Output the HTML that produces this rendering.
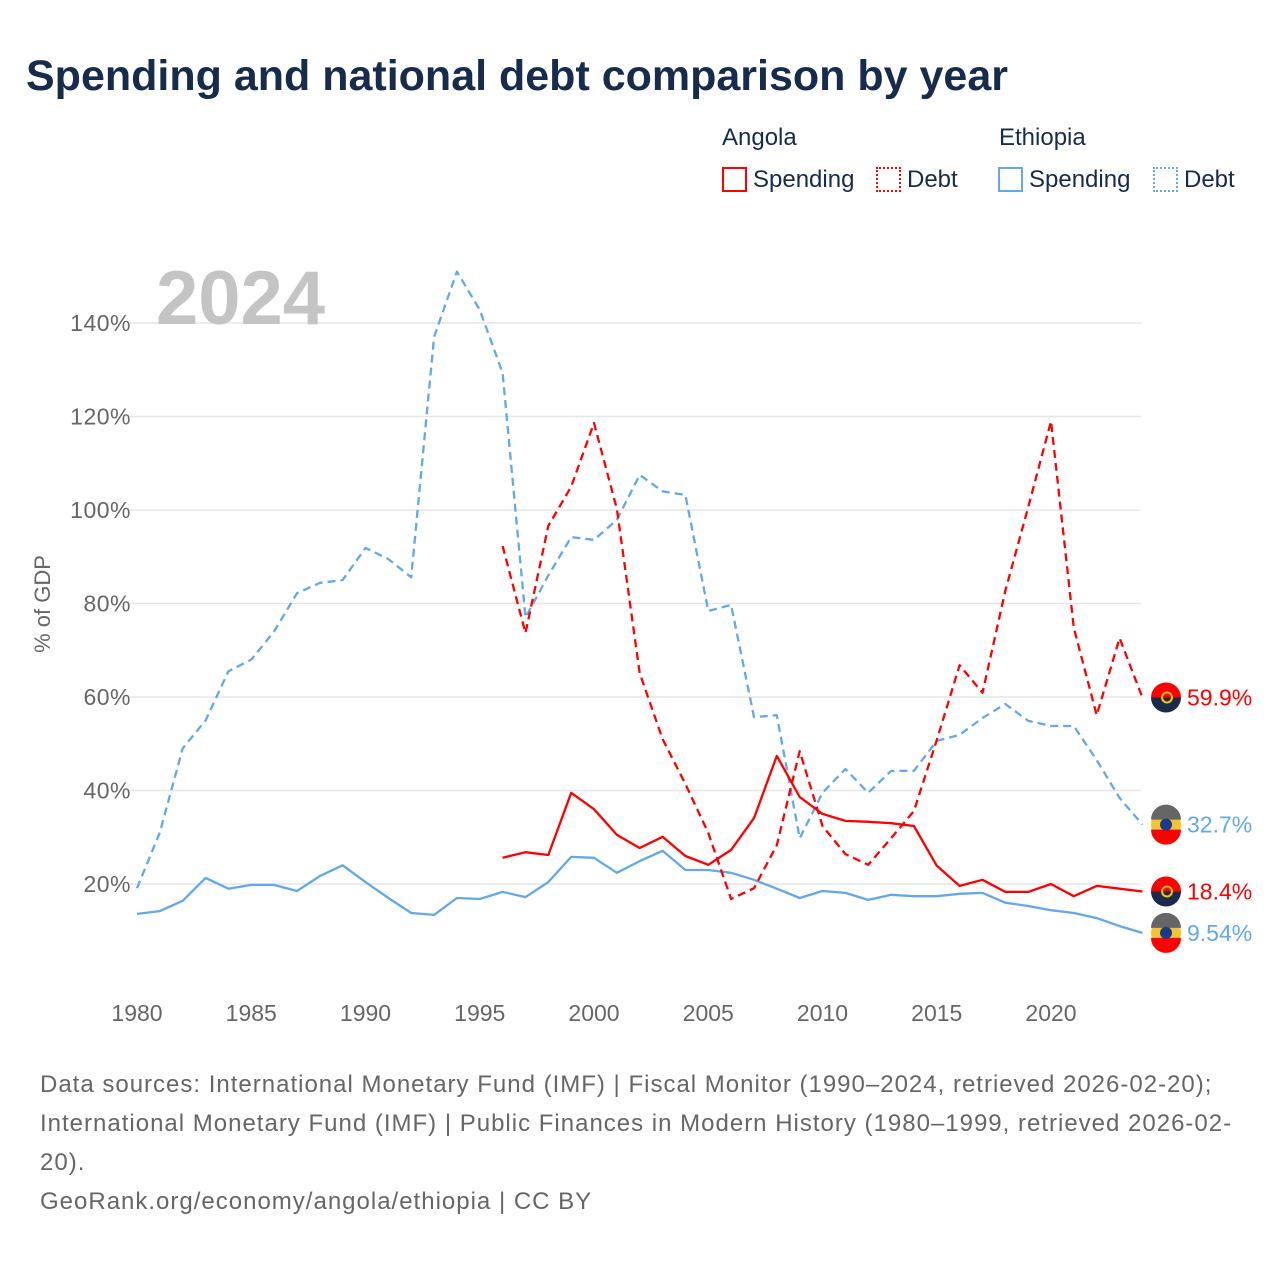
<!DOCTYPE html>
<html><head><meta charset="utf-8"><style>
body{margin:0;background:#fff;font-family:"Liberation Sans",sans-serif;}
#wrap{position:relative;width:1280px;height:1280px;overflow:hidden;}
.t{position:absolute;white-space:nowrap;}
</style></head><body>
<div id="wrap">
<div class="t" style="left:26px;top:52px;font-size:43px;font-weight:bold;color:#172b4d;">Spending and national debt comparison by year</div>
<div class="t" style="left:722px;top:124px;font-size:24px;color:#172b4d;">Angola</div>
<div class="t" style="left:999px;top:124px;font-size:24px;color:#172b4d;">Ethiopia</div>
<div class="t" style="left:722px;top:166px;font-size:24px;color:#172b4d;"><span style="display:inline-block;width:21px;height:21px;border:2px solid #f00;vertical-align:-5px;margin-right:6px;"></span>Spending</div>
<div class="t" style="left:876px;top:166px;font-size:24px;color:#172b4d;"><span style="display:inline-block;width:21px;height:21px;border:2px dotted #f00;vertical-align:-5px;margin-right:6px;"></span>Debt</div>
<div class="t" style="left:998px;top:166px;font-size:24px;color:#172b4d;"><span style="display:inline-block;width:21px;height:21px;border:2px solid #62a8ea;vertical-align:-5px;margin-right:6px;"></span>Spending</div>
<div class="t" style="left:1153px;top:166px;font-size:24px;color:#172b4d;"><span style="display:inline-block;width:21px;height:21px;border:2px dotted #62a8ea;vertical-align:-5px;margin-right:6px;"></span>Debt</div>
<svg id="chart" width="1280" height="1280" style="position:absolute;left:0;top:0;"></svg>
<div class="t" style="left:40px;top:1065px;font-size:24px;letter-spacing:1px;line-height:39px;color:#666;white-space:normal;width:1230px;">Data sources: International Monetary Fund (IMF) | Fiscal Monitor (1990–2024, retrieved 2026-02-20);<br>International Monetary Fund (IMF) | Public Finances in Modern History (1980–1999, retrieved 2026-02-<br>20).<br>GeoRank.org/economy/angola/ethiopia | CC BY</div>
</div>
<script>
const yTicks=[20,40,60,80,100,120,140];
const xTicks=[1980,1985,1990,1995,2000,2005,2010,2015,2020];
const ethDebt=[19.1,31,49,55,65.5,68,74,82.2,84.4,85,91.9,89.5,85.6,137,151,142.8,129.3,77,86,94.2,93.6,97.9,107.5,104,103.2,78.4,79.7,55.7,56.1,29.8,39.5,44.6,39.5,44.2,44.2,50.6,51.9,55.5,58.5,54.9,53.8,53.8,46.5,38.4,32.7];
const ethSpend=[13.6,14.2,16.4,21.3,19,19.8,19.8,18.5,21.7,24,20.4,17,13.8,13.4,17,16.8,18.3,17.2,20.4,25.8,25.6,22.4,24.9,27.1,23,23,22.4,20.9,19,17,18.5,18.1,16.6,17.7,17.4,17.4,17.9,18.1,16,15.3,14.4,13.8,12.7,11,9.54];
const angDebt=[92.3,73.7,96.6,105,118.6,100.2,65.1,51,41.4,30.9,16.8,19.1,28.3,48.4,32.4,26.4,24.1,29.8,35.6,50.8,66.8,60.9,82.7,100.6,119,74.8,56.1,72.6,59.9];
const angSpend=[25.6,26.8,26.2,39.5,36,30.5,27.7,30.1,26,24.1,27.3,34.1,47.4,38.6,35,33.5,33.3,33,32.4,23.9,19.6,20.9,18.3,18.3,20,17.4,19.6,19,18.4];
const endLabels=["59.9%","32.7%","18.4%","9.54%"];
const NS="http://www.w3.org/2000/svg";
const svg=document.getElementById('chart');
const X=yr=>137+(yr-1980)*22.85;
const Y=v=>977.5-v*4.675;
function mk(t,a,p){const e=document.createElementNS(NS,t);for(const k in a)e.setAttribute(k,a[k]);(p||svg).appendChild(e);return e;}
yTicks.forEach(v=>{
 const g=mk('line',{x1:130,x2:1141,y1:Y(v),y2:Y(v),stroke:'#e6e6e6','stroke-width':1.5});
 
 
 const t=mk('text',{x:131,y:Y(v)+8,'text-anchor':'end','font-size':23,'letter-spacing':0.5,fill:'#666','font-family':'Liberation Sans, sans-serif'});
 t.textContent=v+'%';
 
 
});
xTicks.forEach(yr=>{
 const t=mk('text',{x:X(yr),y:1021,'text-anchor':'middle','font-size':23,fill:'#666','font-family':'Liberation Sans, sans-serif'});
 t.textContent=yr;
 
 
});
const yt=mk('text',{x:0,y:0,transform:'translate(50,604) rotate(-90)','text-anchor':'middle','font-size':22,fill:'#666','font-family':'Liberation Sans, sans-serif'});
yt.textContent='% of GDP';


const yr=mk('text',{x:156,y:324,'font-size':76,'font-weight':'bold',fill:'#c4c4c4','font-family':'Liberation Sans, sans-serif'});
yr.textContent='2024';


function line(data,start,color,dash,name){
 const pts=data.map((v,i)=>X(start+i).toFixed(1)+','+Y(v).toFixed(1)).join(' ');
 const p=mk('polyline',{points:pts,fill:'none',stroke:color,'stroke-width':2.3,'stroke-dasharray':dash?'8,5':'none','stroke-linejoin':'round'});
 
 
}
line(ethDebt,1980,'#62a8ea',true,'ethiopia-debt-line');
line(ethSpend,1980,'#62a8ea',false,'ethiopia-spending-line');
line(angDebt,1996,'#ff0000',true,'angola-debt-line');
line(angSpend,1996,'#ff0000',false,'angola-spending-line');
const ends=[[angDebt[angDebt.length-1],'ang','#ff0000'],[ethDebt[ethDebt.length-1],'eth','#62a8ea'],[angSpend[angSpend.length-1],'ang','#ff0000'],[ethSpend[ethSpend.length-1],'eth','#62a8ea']];
ends.forEach((e,i)=>{
 const cy=Y(e[0]), cx=1166;
 const g=mk('g',{});
 
 
 if(e[1]=='ang'){
  mk('path',{d:`M${cx-15},${cy} a15,15 0 0 1 30,0 z`,fill:'#f00'},g);
  mk('path',{d:`M${cx-15},${cy} a15,15 0 0 0 30,0 z`,fill:'#1b2a4a'},g);
  mk('circle',{cx:cx+1,cy:cy,r:5,fill:'none',stroke:'#f7c600','stroke-width':2},g);
 } else {
  mk('circle',{cx:cx,cy:cy,r:15,fill:'#f4c430'},g);
  mk('path',{d:`M${cx-15},${cy-5} a15,15 0 0 1 30,0 z`,fill:'#666'},g);
  mk('path',{d:`M${cx-15},${cy+5} a15,15 0 0 0 30,0 z`,fill:'#f00'},g);
  mk('circle',{cx:cx,cy:cy,r:6,fill:'#1b3a8a'},g);
 }
 const t=mk('text',{x:1187,y:cy+8,'font-size':23,fill:e[2],'font-family':'Liberation Sans, sans-serif'});
 t.textContent=endLabels[i];
 
 
});
</script>
</body></html>
